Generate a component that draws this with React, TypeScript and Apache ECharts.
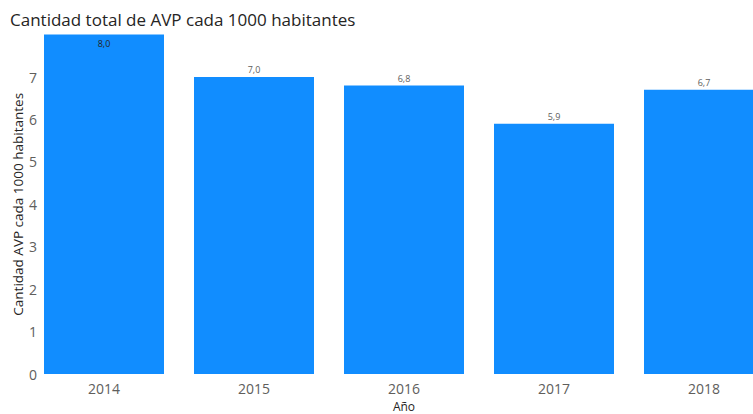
import React, { useEffect, useRef } from "react";
import * as echarts from "echarts";

const years = ["2014", "2015", "2016", "2017", "2018"];
const values = [8.0, 7.0, 6.8, 5.9, 6.7];
const yTicks = [0, 1, 2, 3, 4, 5, 6, 7, 8];

const fmt = (v: number) => v.toFixed(1).replace(".", ",");

export default function App() {
  const ref = useRef<HTMLDivElement>(null);
  useEffect(() => {
    if (!ref.current) return;
    document.body.style.margin = "0";
    const chart = echarts.init(ref.current, undefined, { renderer: "svg" });
    const font = "'Open Sans', 'DejaVu Sans', sans-serif";
    chart.setOption({
      animation: false,
      title: {
        text: "Cantidad total de AVP cada 1000 habitantes",
        left: 5,
        top: 6,
        textStyle: { fontFamily: font, fontSize: 17, fontWeight: "normal", color: "#252423" },
      },
      grid: {
        left: 29,
        top: 34.6,
        width: 750,
        bottom: 40,
        containLabel: false,
        outerBoundsMode: "none",
      },
      xAxis: {
        type: "category",
        data: years,
        name: "Año",
        nameLocation: "middle",
        nameGap: 26,
        nameTextStyle: { fontFamily: font, fontSize: 12, color: "#252423" },
        axisLine: { show: false },
        axisTick: { show: false },
        axisLabel: { fontFamily: font, fontSize: 14, color: "#605E5C", margin: 7 },
      },
      yAxis: {
        type: "value",
        min: yTicks[0],
        max: yTicks[yTicks.length - 1],
        interval: 1,
        name: "Cantidad AVP cada 1000 habitantes",
        nameLocation: "middle",
        nameGap: 4,
        nameMoveOverlap: false,
        nameTextStyle: { fontFamily: font, fontSize: 13.5, color: "#252423" },
        splitLine: { show: false },
        axisLine: { show: false },
        axisTick: { show: false },
        axisLabel: { fontFamily: font, fontSize: 14, color: "#605E5C", margin: -8, showMaxLabel: false },
      },
      series: [
        {
          type: "bar",
          data: values.map((v, i) => ({
            value: v,
            label:
              i === 0
                ? { position: "insideTop", color: "#252423", distance: 4 }
                : { position: "top", color: "#605E5C", distance: 3 },
          })),
          barCategoryGap: "20%",
          itemStyle: { color: "#118DFF" },
          label: {
            show: true,
            fontFamily: font,
            fontSize: 9,
            formatter: (p: any) => fmt(p.value),
          },
        },
      ],
    });
    return () => chart.dispose();
  }, []);
  return <div ref={ref} style={{ width: 753, height: 414 }} />;
}
